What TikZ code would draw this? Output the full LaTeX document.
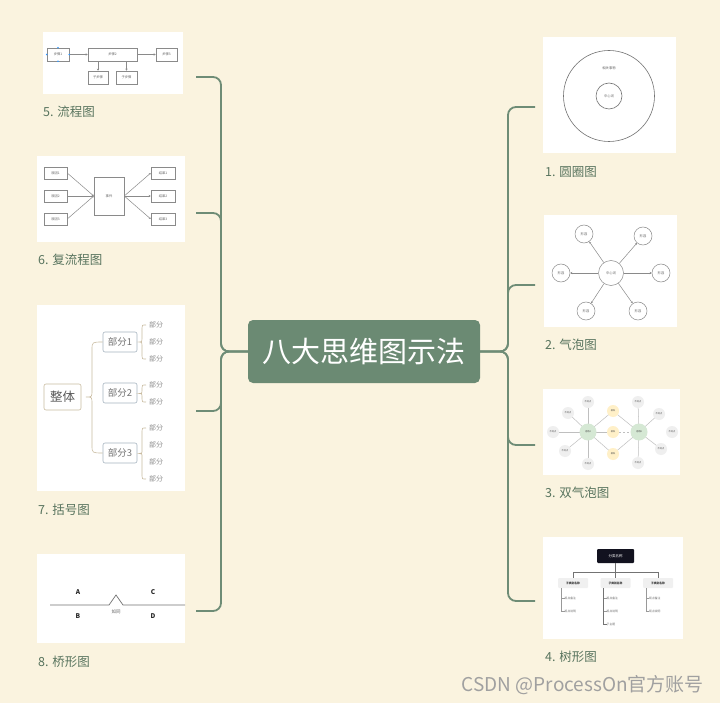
\documentclass[tikz,border=0pt]{standalone}
\usepackage{fontspec}
\setmainfont{Noto Sans CJK SC}
\usetikzlibrary{arrows.meta}
\definecolor{bg}{HTML}{FAF3DF}
\definecolor{branchc}{HTML}{6E8C76}
\definecolor{centralc}{HTML}{6B8A73}
\definecolor{lblc}{HTML}{58745E}
\definecolor{thinc}{HTML}{8A8A8A}
\definecolor{tanc}{HTML}{C9BBA0}
\definecolor{bluegc}{HTML}{A7B5C0}
\definecolor{greenb}{HTML}{D5E8D4}
\definecolor{yellowb}{HTML}{FFF0C8}
\definecolor{grayb}{HTML}{EFEFEF}
\definecolor{navyc}{HTML}{12121F}
\definecolor{wmc}{HTML}{A0A0A0}
\tikzset{
  branch/.style={draw=branchc, line width=1.8pt, rounded corners=8pt},
  lbl/.style={anchor=west, text=lblc, font=\fontsize{12.5}{13}\selectfont, inner sep=0pt},
  thumb/.style={fill=white, draw=none, inner sep=0pt},
  tbox/.style={draw=thinc, line width=0.5pt, fill=white, inner sep=0pt, font=\fontsize{3.3}{3.3}\selectfont, text=black!60},
  tarrow/.style={draw=thinc, line width=0.5pt, -{Stealth[length=2pt,width=2pt]}},
  tline/.style={draw=thinc, line width=0.5pt},
  tiny/.style={font=\fontsize{3.3}{3.3}\selectfont, text=black!60, inner sep=0pt},
  bub/.style={circle, draw=thinc, line width=0.5pt, fill=white, inner sep=0pt, font=\fontsize{3.3}{3.3}\selectfont, text=black!60},
  dbub/.style={circle, inner sep=0pt, draw=none, font=\fontsize{2.2}{2.2}\selectfont, text=black!70},
  dline/.style={draw=black!25, line width=0.5pt},
  brace/.style={draw=tanc, line width=0.6pt},
}
\begin{document}
\begin{tikzpicture}[x=1pt,y=-1pt]
\fill[bg] (0,0) rectangle (720,703);
\useasboundingbox (0,0) rectangle (720,703);

% central node
\node[fill=centralc, rounded corners=5pt, minimum width=232pt, minimum height=63pt,
      text=white, font=\fontsize{29}{29}\selectfont, inner sep=0pt] (c) at (364,351.5) {八大思维图示法};

% branch ends
\coordinate (b5) at (196,77);
\coordinate (b6) at (196,213);
\coordinate (b7) at (196,411);
\coordinate (b8) at (196,611);
\coordinate (b1) at (535,107);
\coordinate (b2) at (535,285);
\coordinate (b3) at (535,445);
\coordinate (b4) at (535,601);

\foreach \b in {b5,b6,b7,b8}{
  \draw[branch] (c.west) -- (221,351.5) -- (221,0 |- \b) -- (\b);
}
\foreach \b in {b1,b2,b3,b4}{
  \draw[branch] (c.east) -- (508,351.5) -- (508,0 |- \b) -- (\b);
}

% labels
\node[lbl] (l5) at (43,112) {5. 流程图};
\node[lbl] (l6) at (38,260) {6. 复流程图};
\node[lbl] (l7) at (38,510) {7. 括号图};
\node[lbl] (l8) at (38,662) {8. 桥形图};
\node[lbl] (l1) at (545,172) {1. 圆圈图};
\node[lbl] (l2) at (545,345) {2. 气泡图};
\node[lbl] (l3) at (545,493) {3. 双气泡图};
\node[lbl] (l4) at (545,657) {4. 树形图};

% thumbnails backgrounds
\node[thumb, minimum width=140pt, minimum height=62pt] (t5) at (113,63) {};
\node[thumb, minimum width=148pt, minimum height=86pt] (t6) at (111,199) {};
\node[thumb, minimum width=148pt, minimum height=186pt] (t7) at (111,398) {};
\node[thumb, minimum width=148pt, minimum height=89pt] (t8) at (111,598.5) {};
\node[thumb, minimum width=133pt, minimum height=116pt] (t1) at (609.5,95) {};
\node[thumb, minimum width=133pt, minimum height=112pt] (t2) at (610.5,271) {};
\node[thumb, minimum width=137pt, minimum height=86pt] (t3) at (611.5,432) {};
\node[thumb, minimum width=140pt, minimum height=102pt] (t4) at (613,588) {};

% ---- 5. flowchart
\node[tbox, minimum width=22pt, minimum height=13pt] (f1) at (58,54.5) {步骤1};
\node[tbox, minimum width=49pt, minimum height=13pt] (f2) at (112.5,54.5) {步骤2};
\node[tbox, minimum width=21pt, minimum height=13pt] (f3) at (166.5,54.5) {步骤3};
\node[tbox, minimum width=20pt, minimum height=13pt] (f4) at (98,77.5) {子步骤};
\node[tbox, minimum width=21pt, minimum height=13pt] (f5) at (126.5,77.5) {子步骤};
\draw[tarrow] (f1.east) -- (f2.west);
\draw[tarrow] (f2.east) -- (f3.west);
\draw[tarrow] (f2.south -| f4.north) -- (f4.north);
\draw[tarrow] (f2.south -| f5.north) -- (f5.north);
\foreach \a in {north,south,east,west}{
  \fill[blue!50!cyan!80] (f1.\a) circle (0.8pt);
}

% ---- 6. multi-flow
\node[tbox, minimum width=23pt, minimum height=12pt] (r1) at (55.5,173) {原因1};
\node[tbox, minimum width=23pt, minimum height=12pt] (r2) at (55.5,196) {原因2};
\node[tbox, minimum width=23pt, minimum height=12pt] (r3) at (55.5,219) {原因3};
\node[tbox, minimum width=30pt, minimum height=38pt] (ev) at (109,196) {事件};
\node[tbox, minimum width=24pt, minimum height=12pt] (o1) at (163,173) {结果1};
\node[tbox, minimum width=24pt, minimum height=12pt] (o2) at (163,196) {结果2};
\node[tbox, minimum width=24pt, minimum height=12pt] (o3) at (163,219) {结果3};
\foreach \r in {r1,r2,r3}{ \draw[tarrow] (\r.east) -- (ev.west); }
\foreach \o in {o1,o2,o3}{ \draw[tarrow] (ev.east) -- (\o.west); }

% ---- 7. brace map
\node[draw=tanc, line width=0.6pt, rounded corners=2pt, minimum width=37pt, minimum height=26pt,
      inner sep=0pt, text=black!65, font=\fontsize{12.5}{13}\selectfont] (wh) at (62.5,397) {整体};
\node[draw=bluegc, line width=0.6pt, rounded corners=2pt, minimum width=34pt, minimum height=20pt,
      inner sep=0pt, text=black!55, font=\fontsize{9.5}{10}\selectfont] (p1) at (120,342) {部分1};
\node[draw=bluegc, line width=0.6pt, rounded corners=2pt, minimum width=34pt, minimum height=20pt,
      inner sep=0pt, text=black!55, font=\fontsize{9.5}{10}\selectfont] (p2) at (120,393) {部分2};
\node[draw=bluegc, line width=0.6pt, rounded corners=2pt, minimum width=34pt, minimum height=20pt,
      inner sep=0pt, text=black!55, font=\fontsize{9.5}{10}\selectfont] (p3) at (120,453) {部分3};
\draw[brace] (p1.west) .. controls (92,342) .. (92,350) -- (92,390)
   .. controls (92,397) .. (86,397) .. controls (92,397) .. (92,404) -- (92,445)
   .. controls (92,453) .. (p3.west);
\tikzset{leaf/.style={font=\fontsize{7}{7}\selectfont, text=black!45, inner sep=0pt}}
\foreach \y [count=\i] in {325,342,359}{ \node[leaf] (q1\i) at (156,\y) {部分}; }
\foreach \y [count=\i] in {385,402}{ \node[leaf] (q2\i) at (156,\y) {部分}; }
\foreach \y [count=\i] in {428,445,462,479}{ \node[leaf] (q3\i) at (156,\y) {部分}; }
\draw[brace] (146,325) .. controls (142,325) .. (142,328) -- (142,339) .. controls (142,342) .. (139,342)
  .. controls (142,342) .. (142,345) -- (142,356) .. controls (142,359) .. (146,359);
\draw[brace] (146,385) .. controls (142,385) .. (142,388) -- (142,391) .. controls (142,393.5) .. (139,393.5)
  .. controls (142,393.5) .. (142,396) -- (142,399) .. controls (142,402) .. (146,402);
\draw[brace] (146,428) .. controls (142,428) .. (142,431) -- (142,450) .. controls (142,453.5) .. (139,453.5)
  .. controls (142,453.5) .. (142,457) -- (142,476) .. controls (142,479) .. (146,479);

% ---- 8. bridge map
\coordinate (bl) at (50,605);
\coordinate (br) at (185,605);
\coordinate (bp) at (116,595);
\draw[draw=black!55, line width=0.7pt] (bl) -- (109,605) -- (bp) -- (123,605) -- (br);
\tikzset{bridgel/.style={font=\fontsize{6.5}{7}\selectfont\bfseries, text=black!85, inner sep=0pt}}
\node[bridgel] (bA) at (78,592) {A};
\node[bridgel] (bB) at (78,616) {B};
\node[bridgel] (bC) at (153,592) {C};
\node[bridgel] (bD) at (153,616) {D};
\node[font=\fontsize{4.5}{5}\selectfont, text=black!60, inner sep=0pt] (bas) at (116,612) {如同};

% ---- 1. circle map
\node[circle, draw=black!55, line width=0.6pt, minimum size=91pt, inner sep=0pt] (co) at (609,96) {};
\node[circle, draw=black!55, line width=0.6pt, minimum size=26pt, inner sep=0pt, tiny] (ci) at (609,96) {中心词};
\node[tiny] (ct) at (609,68) {相关事物};

% ---- 2. bubble map
\node[bub, minimum size=25pt] (bc) at (611,273) {中心词};
\node[bub, minimum size=18pt] (u1) at (584,234) {形容};
\node[bub, minimum size=18pt] (u2) at (643,236) {形容};
\node[bub, minimum size=18pt] (u3) at (561,273) {形容};
\node[bub, minimum size=18pt] (u4) at (661,273) {形容};
\node[bub, minimum size=18pt] (u5) at (586,311) {形容};
\node[bub, minimum size=18pt] (u6) at (638,311) {形容};
\foreach \u in {u1,u2,u3,u4,u5,u6}{ \draw[tarrow] (bc) -- (\u); }

% ---- 3. double bubble
\foreach \n/\p in {g1/{588,402},g2/{568,413},g3/{553,432},g4/{565,451},g5/{588,464},
                   h1/{638,402},h2/{659,414},h3/{672,432},h4/{661,449},h5/{638,463}}{
  \coordinate (\n c) at (\p);
}
\draw[dline] (588,432) -- (g1c); \draw[dline] (588,432) -- (g2c); \draw[dline] (588,432) -- (g3c);
\draw[dline] (588,432) -- (g4c); \draw[dline] (588,432) -- (g5c);
\draw[dline] (639,432) -- (h1c); \draw[dline] (639,432) -- (h2c);
\draw[dline] (639,432) -- (h4c); \draw[dline] (639,432) -- (h5c);
\draw[dline] (588,432) -- (613,411); \draw[dline] (588,432) -- (613,432); \draw[dline] (588,432) -- (613,454);
\draw[dline] (639,432) -- (613,411); \draw[dline] (639,432) -- (613,454);
\node[dbub, fill=greenb, minimum size=17pt] (dA) at (588,432) {话题A};
\node[dbub, fill=greenb, minimum size=17pt] (dB) at (639,432) {话题B};
\node[dbub, fill=yellowb, minimum size=12pt] (m1) at (613,411) {相似};
\node[dbub, fill=yellowb, minimum size=12pt] (m2) at (613,432) {相似};
\node[dbub, fill=yellowb, minimum size=12pt] (m3) at (613,454) {相似};
\foreach \n in {g1,g2,g3,g4,g5,h1,h2,h3,h4,h5}{
  \node[dbub, fill=grayb, minimum size=12pt] (\n) at (\n c) {不同点};
}
\draw[dline, dash pattern=on 2pt off 2pt] (m2) -- (dB);

% ---- 4. tree map
\node[fill=navyc, rounded corners=1pt, minimum width=37pt, minimum height=14pt, inner sep=0pt,
      text=white, font=\fontsize{3.5}{4}\selectfont] (tr) at (615.5,556) {分类名称};
\tikzset{tchild/.style={fill=black!6, rounded corners=1pt, minimum width=30pt, minimum height=10pt, inner sep=0pt,
      text=black!80, font=\fontsize{2.8}{3}\selectfont\bfseries}}
\node[tchild] (k1) at (573,583) {子类别名称};
\node[tchild] (k2) at (615.5,583) {子类别名称};
\node[tchild] (k3) at (658,583) {子类别名称};
\draw[draw=black!55, line width=0.8pt] (tr.south) -- (615.5,572);
\draw[draw=black!55, line width=0.8pt] (k1.north) -- (573,572) -- (658,572) -- (k3.north);
\draw[draw=black!55, line width=0.8pt] (615.5,572) -- (k2.north);
\tikzset{titem/.style={anchor=west, font=\fontsize{2.8}{3}\selectfont, text=black!60, inner sep=0pt}}
\node[titem] (i11) at (564.5,598) {观点备注};
\node[titem] (i12) at (564.5,611) {观点说明};
\node[titem] (i21) at (606.5,598) {观点备注};
\node[titem] (i22) at (606.5,611) {观点说明};
\node[titem] (i23) at (606.5,624) {子主题};
\node[titem] (i31) at (649,598) {观点备注};
\node[titem] (i32) at (649,611) {观点说明};
\draw[draw=black!40, line width=0.5pt] (561.5,588) -- (561.5,611) -- (i12.west);
\draw[draw=black!40, line width=0.5pt] (561.5,598) -- (i11.west);
\draw[draw=black!55, line width=0.8pt] (603.5,588) -- (603.5,624) -- (i23.west);
\draw[draw=black!40, line width=0.5pt] (603.5,598) -- (i21.west);
\draw[draw=black!40, line width=0.5pt] (603.5,611) -- (i22.west);
\draw[draw=black!40, line width=0.5pt] (646,588) -- (646,611) -- (i32.west);
\draw[draw=black!40, line width=0.5pt] (646,598) -- (i31.west);

% watermark
\node[anchor=east, text=wmc, font=\fontsize{19}{19}\selectfont, inner sep=0pt] (wm) at (704,685) {CSDN @ProcessOn官方账号};
\end{tikzpicture}
\end{document}
